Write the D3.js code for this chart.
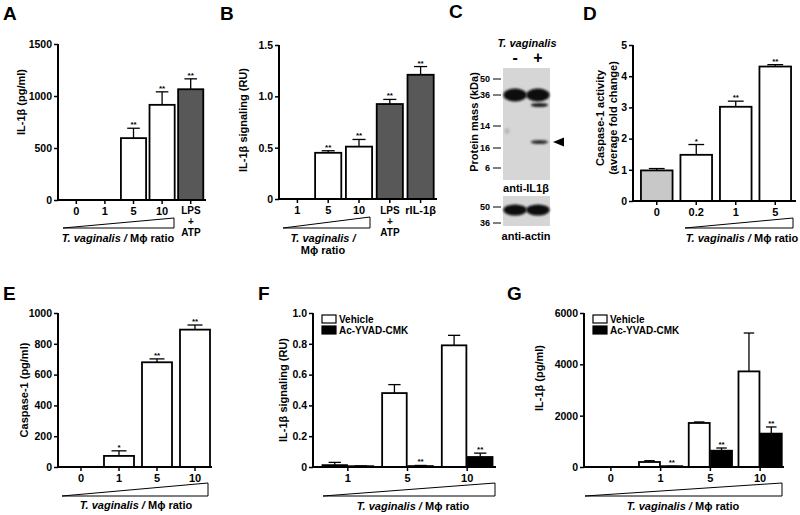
<!DOCTYPE html>
<html><head><meta charset="utf-8">
<script src="https://cdn.jsdelivr.net/npm/d3@7"></script>
<style>
body{margin:0;background:#fff}
svg{display:block}
text{font-family:"Liberation Sans",Arial,Helvetica,sans-serif;font-weight:bold;fill:#000}
</style></head>
<body><svg id="c" width="800" height="515"></svg>
<script>
// ---------- DATA ----------
// Panel A
const aCats = ["0","1","5","10","LPS"];
const aValues = [0,0,595,915,1065];
const aErrTop = [0,0,690,1040,1165];
const aStars = ["","","**","**","**"];
const aTicks = [0,500,1000,1500];
// Panel B
const bCats = ["1","5","10","LPS","rIL-1β"];
const bValues = [0,0.45,0.51,0.925,1.21];
const bErrTop = [0,0.47,0.58,0.97,1.29];
const bStars = ["","**","**","**","**"];
const bTicks = [0,0.5,1.0,1.5];
// Panel C (western blot)
const cLanes = ["-","+"];
const cMarkersTop = ["50","36","14","16","6"];
const cMarkerMigTop = [0,16,47,69,89];
const cMarkersBottom = ["50","36"];
const cMarkerMigBottom = [0,16];
const cBandLane = ["-","+","+","+"];
const cBandMig = [16,16,26,63];
const cBandStrength = [1,1,0.45,0.4];
const cActinLane = ["-","+"];
const cActinMig = [3,3];
// Panel D
const dCats = ["0","0.2","1","5"];
const dValues = [0.98,1.48,3.02,4.31];
const dErrTop = [1.04,1.81,3.2,4.37];
const dStars = ["","*","**","**"];
const dTicks = [0,1,2,3,4,5];
// Panel E
const eCats = ["0","1","5","10"];
const eValues = [0,72,680,892];
const eErrTop = [0,105,702,922];
const eStars = ["","*","**","**"];
const eTicks = [0,200,400,600,800,1000];
// Panel F
const fGroups = ["1","5","10"];
const fVehicle = [0.012,0.48,0.79];
const fVehicleErr = [0.03,0.535,0.855];
const fYvad = [0.005,0.006,0.065];
const fYvadErr = [0.007,0.01,0.09];
const fYvadStars = ["","**","**"];
const fTicks = [0,0.2,0.4,0.6,0.8,1.0];
// Panel G
const gGroups = ["0","1","5","10"];
const gVehicle = [0,195,1715,3725];
const gVehicleErr = [0,245,1755,5220];
const gYvad = [0,15,635,1300];
const gYvadErr = [0,25,740,1560];
const gYvadStars = ["","**","**","**"];
const gTicks = [0,2000,4000,6000];
const seriesNames = ["Vehicle","Ac-YVAD-CMK"];
const stimLines = ["LPS","+","ATP"];

// ---------- HELPERS ----------
const svg = d3.select("#c");
const TICK_FS = 10.5, TITLE_FS = 11;

function letter(t,x,y){ svg.append("text").attr("x",x).attr("y",y).attr("font-size",19).text(t); }

function yAxis(g, y, ax, ticks, fmt){
  const a = d3.axisLeft(y).tickValues(ticks).tickSize(4).tickPadding(2).tickFormat(fmt);
  const gg = g.append("g").attr("transform",`translate(${ax},0)`).call(a);
  gg.select(".domain").attr("stroke-width",2).attr("d",`M0,${y.range()[0]+1}V${y.range()[1]}`);
  gg.selectAll(".tick line").attr("stroke-width",1.5);
  gg.selectAll(".tick text").attr("font-size",TICK_FS).attr("font-family","Liberation Sans, Arial").attr("font-weight","bold");
}
function xAxis(g, x, ax, xEnd, y0, showLabels){
  g.append("line").attr("x1",ax).attr("x2",xEnd).attr("y1",y0).attr("y2",y0).attr("stroke","#000").attr("stroke-width",2);
  const a = d3.axisBottom(x).tickSize(4).tickPadding(3);
  const gg = g.append("g").attr("transform",`translate(0,${y0})`).call(a);
  gg.select(".domain").remove();
  gg.selectAll(".tick line").attr("stroke-width",1.5);
  gg.selectAll(".tick text").attr("font-size",TICK_FS+0.5).attr("font-family","Liberation Sans, Arial").attr("font-weight","bold")
    .style("display", d => showLabels(d) ? null : "none");
}
function stimLabel(x,y){
  stimLines.forEach((l,i)=> svg.append("text").attr("x",x).attr("y",y+i*11).attr("text-anchor","middle").attr("font-size",10).text(l));
}
function yTitle(lines,x,y){
  const t = svg.append("text").attr("transform",`translate(${x},${y}) rotate(-90)`).attr("text-anchor","middle").attr("font-size",TITLE_FS);
  lines.forEach((l,i)=> t.append("tspan").attr("x",0).attr("dy", i===0 ? -(lines.length-1)*6.5 : 13).text(l));
}
function wedge(xL,xR,yT,yB){
  svg.append("path").attr("d",`M${xL},${yB}L${xR},${yT}L${xR},${yB}Z`).attr("fill","#fff").attr("stroke","#000").attr("stroke-width",1);
}
function ratioLabel(x,y,twoLines){
  const t = svg.append("text").attr("x",x).attr("y",y).attr("text-anchor","middle").attr("font-size",TICK_FS+0.5);
  if(!twoLines){
    t.append("tspan").attr("font-style","italic").text("T. vaginalis / ");
    t.append("tspan").text("Mϕ ratio");
  } else {
    t.append("tspan").attr("font-style","italic").text("T. vaginalis /");
    t.append("tspan").attr("x",x).attr("dy",12).text("Mϕ ratio");
  }
}
function errBar(g, cx, yTop, yVal, capW){
  g.append("line").attr("x1",cx).attr("x2",cx).attr("y1",yVal).attr("y2",yTop).attr("stroke","#000").attr("stroke-width",1.3);
  g.append("line").attr("x1",cx-capW/2).attr("x2",cx+capW/2).attr("y1",yTop).attr("y2",yTop).attr("stroke","#000").attr("stroke-width",1.3);
}
function star(g,cx,yy,s){
  if(s) g.append("text").attr("x",cx).attr("y",yy-1).attr("text-anchor","middle").attr("font-size",8).text(s);
}

function singlePanel(o){
  const g = svg.append("g");
  const y = d3.scaleLinear().domain([0,o.ticks[o.ticks.length-1]]).range([o.y0,o.y1]);
  const x = d3.scaleBand().domain(o.cats).range(o.xr).paddingInner(o.pad).paddingOuter(o.pad/2);
  const bw = x.bandwidth();
  o.cats.forEach((c,i)=>{
    if(o.values[i] <= 0) return;
    g.append("rect").attr("x",x(c)).attr("y",y(o.values[i])).attr("width",bw).attr("height",y(0)-y(o.values[i]))
      .attr("fill",o.fills[i]).attr("stroke","#000").attr("stroke-width",1.8);
    const cx = x(c)+bw/2;
    if(o.err[i] > o.values[i]) errBar(g,cx,y(o.err[i]),y(o.values[i]),bw*0.5);
    star(g,cx,y(Math.max(o.err[i],o.values[i])),o.stars[i]);
  });
  xAxis(g,x,o.ax,o.xEnd,o.y0,o.showLabels);
  yAxis(g,y,o.ax,o.ticks,o.fmt);
  return x;
}

function groupPanel(o){
  const g = svg.append("g");
  const y = d3.scaleLinear().domain([0,o.ticks[o.ticks.length-1]]).range([o.y0,o.y1]);
  const x = d3.scaleBand().domain(o.groups).range(o.xr).paddingInner(o.pad).paddingOuter(o.pad/2);
  const xi = d3.scaleBand().domain(seriesNames).range([0,x.bandwidth()]).paddingInner(0.06);
  const bw = xi.bandwidth();
  const series = [
    {name:seriesNames[0], v:o.vehicle, e:o.vehicleErr, s:o.groups.map(()=>""), fill:"#fff"},
    {name:seriesNames[1], v:o.yvad, e:o.yvadErr, s:o.yvadStars, fill:"#000"}];
  o.groups.forEach((gr,i)=>{
    series.forEach(se=>{
      if(se.v[i] <= 0) return;
      const bx = x(gr)+xi(se.name);
      const h = Math.max(y(0)-y(se.v[i]),0.8);
      g.append("rect").attr("x",bx).attr("y",y(0)-h).attr("width",bw).attr("height",h)
        .attr("fill",se.fill).attr("stroke","#000").attr("stroke-width",1.8);
      const cx = bx+bw/2;
      if(se.e[i] > se.v[i]) errBar(g,cx,y(se.e[i]),y(se.v[i]),bw*0.5);
      star(g,cx,y(Math.max(se.e[i],se.v[i])),se.s[i]);
    });
  });
  xAxis(g,x,o.ax,o.xEnd,o.y0,()=>true);
  yAxis(g,y,o.ax,o.ticks,o.fmt);
  // legend
  seriesNames.forEach((n,i)=>{
    const ly = o.y1 + 2 + i*11;
    g.append("rect").attr("x",o.ax+9).attr("y",ly).attr("width",14).attr("height",8)
      .attr("fill", i===0?"#fff":"#000").attr("stroke","#000").attr("stroke-width",1.2);
    g.append("text").attr("x",o.ax+26).attr("y",ly+8).attr("font-size",10).text(n);
  });
}

const fmtPlain = d => d===0 ? "0" : d3.format("")(d);

// ---------- PANEL A ----------
letter("A",3,20);
singlePanel({cats:aCats, values:aValues, err:aErrTop, stars:aStars, ticks:aTicks, fmt:fmtPlain,
  fills:aCats.map(c=> c==="LPS" ? "#585858" : "#fff"),
  y0:200, y1:44, xr:[62,205], pad:0.12, ax:58, xEnd:206, showLabels:d=>d!=="LPS"});
stimLabel(191,214);
wedge(63,174,218,228);
ratioLabel(118,242,false);
yTitle(["IL-1β (pg/ml)"],25,102);

// ---------- PANEL B ----------
letter("B",220,20);
singlePanel({cats:bCats, values:bValues, err:bErrTop, stars:bStars, ticks:bTicks, fmt:d=>d===0?"0":d3.format(".1f")(d),
  fills:bCats.map(c=> (c==="LPS"||c==="rIL-1β") ? "#585858" : "#fff"),
  y0:199, y1:45, xr:[282,436], pad:0.15, ax:279, xEnd:437, showLabels:d=>d!=="LPS"});
stimLabel(390,214);
wedge(283,370,217,228);
ratioLabel(323,242,true);
yTitle(["IL-1β signaling (RU)"],247,120);

// ---------- PANEL C (blot) ----------
letter("C",449,18);
(function(){
  const g = svg.append("g");
  const defs = svg.append("defs");
  defs.append("filter").attr("id","blur").attr("x","-50%").attr("y","-200%").attr("width","200%").attr("height","500%")
    .append("feGaussianBlur").attr("stdDeviation",1.2);
  const lx = d3.scaleBand().domain(cLanes).range([503,550]).padding(0.06);
  const yTop = d3.scaleLinear().domain([0,89]).range([79,168]);
  const yBot = d3.scaleLinear().domain([0,16]).range([207,223]);
  g.append("rect").attr("x",503).attr("y",68).attr("width",47).attr("height",112).attr("fill","#d6d6d6");
  g.append("rect").attr("x",503).attr("y",196).attr("width",47).attr("height",30).attr("fill","#d6d6d6");
  g.append("ellipse").attr("cx",507).attr("cy",131).attr("rx",2.5).attr("ry",3).attr("fill","#b8b8b8").attr("filter","url(#blur)");
  cBandLane.forEach((l,i)=>{
    const big = cBandStrength[i] > 0.8;
    g.append("ellipse").attr("cx",lx(l)+lx.bandwidth()/2 + (big?0:1.5)).attr("cy",yTop(cBandMig[i]))
      .attr("rx", big ? lx.bandwidth()/2+1 : lx.bandwidth()/2-2).attr("ry", big ? 6.5 : 2)
      .attr("fill", d3.interpolateRgb("#d6d6d6","#0a0a0a")(Math.min(1,cBandStrength[i]*2))).attr("filter","url(#blur)");
  });
  cActinLane.forEach((l,i)=>{
    g.append("ellipse").attr("cx",lx(l)+lx.bandwidth()/2).attr("cy",yBot(cActinMig[i])).attr("rx",lx.bandwidth()/2+1).attr("ry",5.5)
      .attr("fill","#0a0a0a").attr("filter","url(#blur)");
  });
  const mk = (labels,migs,sc)=>labels.forEach((m,i)=>{
    g.append("line").attr("x1",493).attr("x2",501).attr("y1",sc(migs[i])).attr("y2",sc(migs[i])).attr("stroke","#000").attr("stroke-width",1);
    g.append("text").attr("x",490).attr("y",sc(migs[i])+3).attr("text-anchor","end").attr("font-size",9).attr("font-weight","normal").text(m);
  });
  mk(cMarkersTop,cMarkerMigTop,yTop);
  mk(cMarkersBottom,cMarkerMigBottom,yBot);
  const ay = yTop(cBandMig[3]);
  g.append("path").attr("d",`M553,${ay}L564,${ay-4.5}L564,${ay+4.5}Z`).attr("fill","#000");
  g.append("text").attr("x",527).attr("y",47).attr("text-anchor","middle").attr("font-size",11).attr("font-style","italic").text("T. vaginalis");
  cLanes.forEach(l=> g.append("text").attr("x",lx(l)+lx.bandwidth()/2).attr("y",63).attr("text-anchor","middle").attr("font-size",16).text(l));
  g.append("text").attr("x",526).attr("y",192).attr("text-anchor","middle").attr("font-size",11).text("anti-IL1β");
  g.append("text").attr("x",526).attr("y",240).attr("text-anchor","middle").attr("font-size",11).text("anti-actin");
  g.append("text").attr("transform","translate(478,122) rotate(-90)").attr("text-anchor","middle").attr("font-size",11).text("Protein mass (kDa)");
})();

// ---------- PANEL D ----------
letter("D",583,20);
singlePanel({cats:dCats, values:dValues, err:dErrTop, stars:dStars, ticks:dTicks, fmt:fmtPlain,
  fills:dCats.map(c=> c==="0" ? "#c8c8c8" : "#fff"),
  y0:201, y1:45, xr:[637,795], pad:0.2, ax:633, xEnd:796, showLabels:()=>true});
wedge(685,793,218,228);
ratioLabel(742,242,false);
yTitle(["Caspase-1 activity","(average fold change)"],610,118);

// ---------- PANEL E ----------
letter("E",3,300);
singlePanel({cats:eCats, values:eValues, err:eErrTop, stars:eStars, ticks:eTicks, fmt:fmtPlain,
  fills:eCats.map(()=>"#fff"),
  y0:467, y1:313, xr:[62,214], pad:0.21, ax:58, xEnd:212, showLabels:()=>true});
wedge(62,208,483,496);
ratioLabel(136,509,false);
yTitle(["Caspase-1 (pg/ml)"],28,390);

// ---------- PANEL F ----------
letter("F",258,300);
groupPanel({groups:fGroups, vehicle:fVehicle, vehicleErr:fVehicleErr, yvad:fYvad, yvadErr:fYvadErr, yvadStars:fYvadStars,
  ticks:fTicks, fmt:d=>d===0?"0":d3.format(".1f")(d), y0:467, y1:313, xr:[318,497], pad:0.15, ax:313, xEnd:496});
wedge(323,495,483,496);
ratioLabel(413,510,false);
yTitle(["IL-1β signaling (RU)"],287,390);

// ---------- PANEL G ----------
letter("G",507,300);
groupPanel({groups:gGroups, vehicle:gVehicle, vehicleErr:gVehicleErr, yvad:gYvad, yvadErr:gYvadErr, yvadStars:gYvadStars,
  ticks:gTicks, fmt:fmtPlain, y0:467, y1:313, xr:[586,785], pad:0.13, ax:584, xEnd:784});
wedge(585,782,483,496);
ratioLabel(683,510,false);
yTitle(["IL-1β (pg/ml)"],543,378);
</script></body></html>
